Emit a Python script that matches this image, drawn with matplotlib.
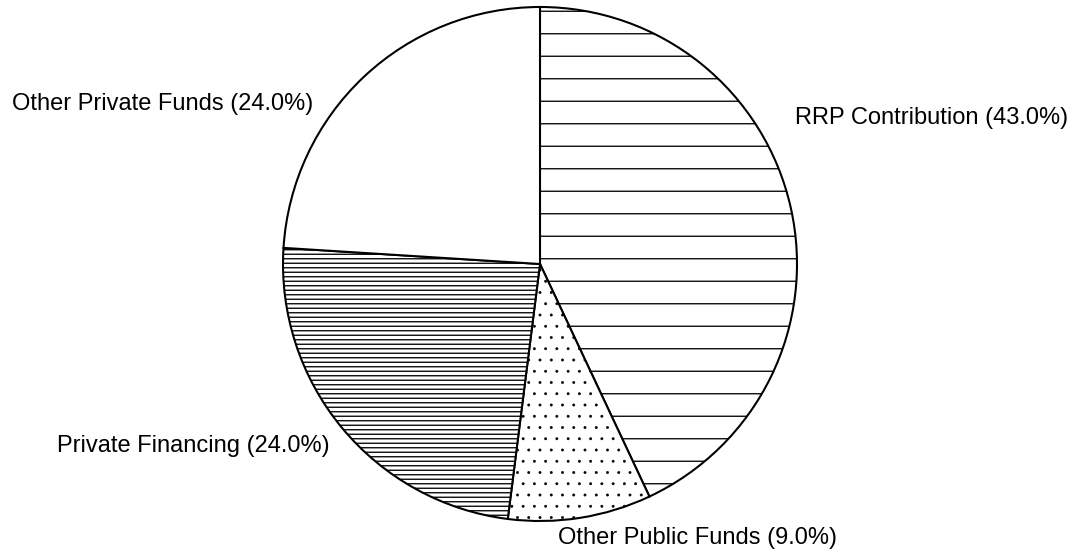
import matplotlib
matplotlib.use("Agg")
import matplotlib.pyplot as plt

# slice data, clockwise from 12 o'clock
labels = ["RRP Contribution", "Other Public Funds", "Private Financing", "Other Private Funds"]
shares = [43.0, 9.0, 24.0, 24.0]
hatches = ["-", "..", "-----", ""]
hatch_lw = [0.7, 0.3, 0.7, 0.7]

# label anchors (left edge, baseline) in figure pixels, measured from the top
label_pos = [(795, 124), (558, 544), (57, 452), (12, 110)]

W, H, DPI = 1092, 556, 135
plt.rcParams["font.family"] = ["Liberation Sans", "DejaVu Sans"]
plt.rcParams["hatch.linewidth"] = 0.7

fig = plt.figure(figsize=(W / DPI, H / DPI), dpi=DPI)
ax = fig.add_axes([0, 0, 1, 1])

wedges, _ = ax.pie(shares, startangle=90, counterclock=False,
                   center=(540, H - 264), radius=257,
                   wedgeprops=dict(facecolor="white", edgecolor="black", linewidth=1.1),
                   frame=True)
for w, h, lw in zip(wedges, hatches, hatch_lw):
    w.set_hatch(h)
    if hasattr(w, "set_hatch_linewidth"):
        w.set_hatch_linewidth(lw)
ax.set_xlim(0, W)
ax.set_ylim(0, H)
ax.set_aspect("equal")
ax.axis("off")

for lab, val, (x, y) in zip(labels, shares, label_pos):
    ax.text(x, H - y, f"{lab} ({val:.1f}%)", fontsize=12.6, ha="left", va="baseline")

fig.savefig("out.png", dpi=DPI, facecolor="white")
